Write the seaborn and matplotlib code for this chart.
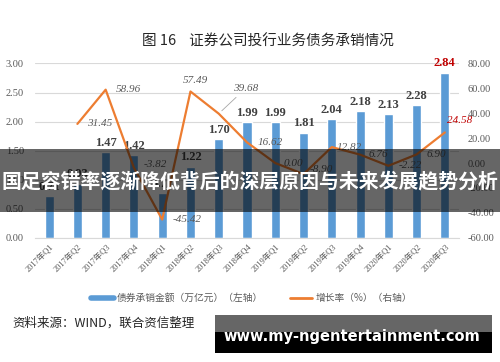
import matplotlib
matplotlib.use('Agg')
import matplotlib.pyplot as plt
import seaborn as sns
import numpy as np
import pandas as pd
from matplotlib.patches import Rectangle
from matplotlib.lines import Line2D

# ---------------- data ----------------
categories = ['2017年Q1', '2017年Q2', '2017年Q3', '2017年Q4',
              '2018年Q1', '2018年Q2', '2018年Q3', '2018年Q4',
              '2019年Q1', '2019年Q2', '2019年Q3', '2019年Q4',
              '2020年Q1', '2020年Q2', '2020年Q3']
amount = [0.71, 0.93, 1.47, 1.42, 0.77, 1.22, 1.70, 1.99,
          1.99, 1.81, 2.04, 2.18, 2.13, 2.28, 2.84]
growth = [np.nan, 31.45, 58.96, -3.82, -45.42, 57.49, 39.68, 16.62,
          0.00, -8.90, 12.82, 6.76, -2.22, 6.90, 24.58]
left_ticks = [0.0, 0.5, 1.0, 1.5, 2.0, 2.5, 3.0]
right_ticks = [-60, -40, -20, 0, 20, 40, 60, 80]
title = '图 16    证券公司投行业务债务承销情况'
legend_labels = ['债券承销金额（万亿元）（左轴）', '增长率（%）（右轴）']
source = '资料来源：WIND，联合资信整理'
banner = '国足容错率逐渐降低背后的深层原因与未来发展趋势分析'
watermark = 'www.my-ngentertainment.com'

# label offsets for growth labels (pixels: dx, dy, ha)
growth_label_style = [None, (10, 0, 'left'), (10, 0, 'left'), (10, 3, 'left'),
                      (10, 0, 'left'), (5, 11, 'center'), (14, 25, 'left'),
                      (11, 0, 'left'), (8, 0, 'left'), (6, 5, 'left'),
                      (5, 0, 'left'), (8, 0, 'left'), (10, 0, 'left'),
                      (10, 0, 'left'), (2, 12, 'left')]

BLUE = '#5B9BD5'
ORANGE = '#ED7D31'
GRAY = '#595959'
GRID = '#D9D9D9'

sns.set_theme(style='white')
plt.rcParams['font.family'] = ['Liberation Serif', 'Noto Sans CJK SC', 'DejaVu Sans']
CJK = ['Noto Sans CJK SC', 'DejaVu Sans']
SERIF = ['Liberation Serif', 'Noto Sans CJK SC']

fig = plt.figure(figsize=(5, 3.62), dpi=100)
ax = fig.add_axes([0.07, 0.3434, 0.848, 0.4812])

df = pd.DataFrame({'cat': categories, 'amount': amount, 'growth': growth,
                   'pos': np.arange(len(categories))})

sns.barplot(data=df, x='cat', y='amount', color=BLUE, saturation=1,
            width=0.32, ax=ax, zorder=2)
ax.set_ylim(0, 3)
ax.set_yticks(left_ticks)
ax.set_yticklabels([f'{t:.2f}' for t in left_ticks])
ax.yaxis.grid(True, color=GRID, linewidth=0.8, zorder=0)
ax.set_axisbelow(True)
ax.set_xlabel('')
ax.set_ylabel('')
for s in ['top', 'right', 'left']:
    ax.spines[s].set_visible(False)
ax.spines['bottom'].set_color(GRID)
ax.spines['bottom'].set_linewidth(0.8)
ax.tick_params(axis='y', length=0, pad=8, labelsize=7.5, labelcolor=GRAY)
ax.tick_params(axis='x', length=0, pad=3, labelsize=6, labelcolor=GRAY)
for lab in ax.get_xticklabels():
    lab.set_rotation(45)
    lab.set_ha('right')
    lab.set_rotation_mode('anchor')
    lab.set_family(SERIF)
for lab in ax.get_yticklabels():
    lab.set_family(SERIF)

for i, v in enumerate(amount):
    col = '#C00000' if i == len(amount) - 1 else '#404040'
    ax.annotate(f'{v:.2f}', (i, v), xytext=(0, 2.5), textcoords='offset points',
                ha='center', va='bottom', fontsize=9, fontweight='bold',
                color=col, family=SERIF, zorder=5)

ax2 = ax.twinx()
sns.lineplot(data=df, x='pos', y='growth', color=ORANGE, linewidth=1.6,
             ax=ax2, zorder=4)
ax2.set_ylim(-60, 80)
ax2.set_yticks(right_ticks)
ax2.set_yticklabels([f'{t:.2f}' for t in right_ticks])
ax2.set_xlabel('')
ax2.set_ylabel('')
for s in ['top', 'right', 'left', 'bottom']:
    ax2.spines[s].set_visible(False)
ax2.tick_params(axis='y', length=0, pad=6, labelsize=7.5, labelcolor=GRAY)
for lab in ax2.get_yticklabels():
    lab.set_family(SERIF)
ax.set_xlim(-0.5, len(categories) - 0.5)

for i, g in enumerate(growth):
    st = growth_label_style[i]
    if st is None or np.isnan(g):
        continue
    dx, dy, ha = st
    col = '#C00000' if i == len(growth) - 1 else GRAY
    kw = {}
    if i == 6:
        kw['arrowprops'] = dict(arrowstyle='-', color='#A6A6A6', lw=0.6,
                                shrinkA=1, shrinkB=3)
    ax2.annotate(f'{g:.2f}', (i, g), xytext=(dx, dy), textcoords='offset pixels',
                 ha=ha, va='center', fontsize=8, fontstyle='italic',
                 color=col, family=SERIF, zorder=5, **kw)

# title
fig.text(0.536, 0.884, title, ha='center', va='center', fontsize=10.5,
         color='#262626', family=CJK)

# legend
handles = [Line2D([], [], color=BLUE, lw=4), Line2D([], [], color=ORANGE, lw=2)]
leg = fig.legend(handles=handles, labels=legend_labels, loc='center',
                 bbox_to_anchor=(0.503, 0.177), ncol=2, frameon=False,
                 fontsize=7, handlelength=2.3, handletextpad=0.3,
                 columnspacing=2.8, prop={'family': CJK, 'size': 7})
for t in leg.get_texts():
    t.set_color(GRAY)

# source
fig.text(0.024, 0.108, source, ha='left', va='center', fontsize=9,
         color='#262626', family=CJK)

# banner overlay
fig.add_artist(Rectangle((0, 1 - 212 / 362), 1, 63 / 362, transform=fig.transFigure,
                         facecolor='black', alpha=0.6, edgecolor='none', zorder=10))
fig.text(0.5, 1 - 181 / 362, banner, ha='center', va='center', fontsize=14.3,
         fontweight='bold', color='white', family=CJK, zorder=11)

# watermark
fig.add_artist(Rectangle((215 / 500, 1 - 332 / 362), 277 / 500, 17 / 362,
                         transform=fig.transFigure, facecolor='#666666',
                         edgecolor='none', zorder=10))
fig.add_artist(Rectangle((215 / 500, 1 - 353 / 362), 277 / 500, 21 / 362,
                         transform=fig.transFigure, facecolor='black',
                         edgecolor='none', zorder=10))
fig.text(351.5 / 500, 1 - 337 / 362, watermark, ha='center', va='center',
         fontsize=10.5, fontweight='bold', color='white',
         family=['DejaVu Sans'], zorder=11)

fig.savefig('out.png', dpi=100)
